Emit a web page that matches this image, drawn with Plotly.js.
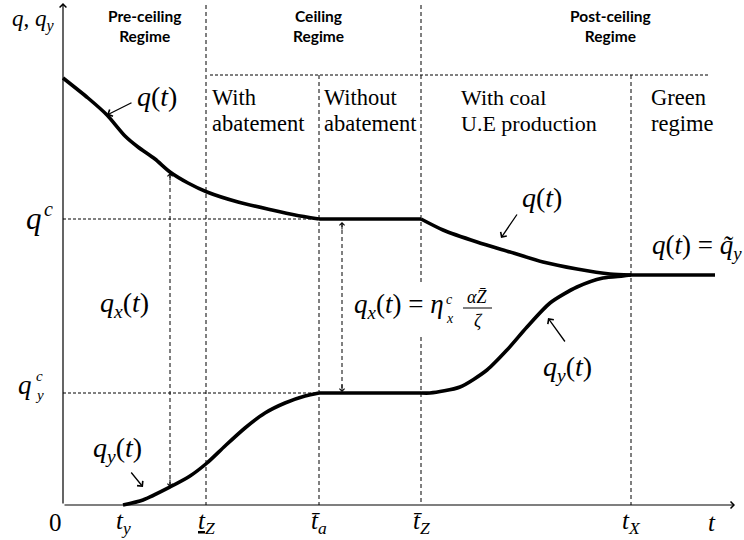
<!DOCTYPE html>
<html><head><meta charset="utf-8">
<script src="https://cdn.plot.ly/plotly-3.0.1.min.js"></script>
<style>html,body{margin:0;padding:0;background:#fff}</style>
</head><body><div id="chart" style="width:744px;height:540px"></div>
<script>
// ---- data (time offset from origin, level above axis) ----
const timePoints = [0, 60, 143, 256, 358, 568, 649];
const timeNames = ['0', '<i>t</i><sub><i>y</i></sub>', '<u><i>t</i></u><sub><i>Z</i></sub>',
  '<i>t̄</i><sub><i>a</i></sub>', '<i>t̄</i><sub><i>Z</i></sub>', '<i>t</i><sub><i>X</i></sub>', '<i>t</i>'];
const qCeil = 286;      // q^c
const qyCeil = 112;     // q_y^c
const qGreen = 230;     // q~_y
const tEnd = 652;

// q(t) before ceiling
const qPreT = [0, 25, 44, 62, 75, 92, 107, 125, 144, 175, 209, 232, 256];
const qPreV = [427, 407, 390, 369, 358, 346, 333, 322, 313, 303, 295, 290, 286];
// q(t) after ceiling
const qPostT = [358, 380, 414, 447, 480, 514, 547, 568];
const qPostV = [286, 275, 263, 253, 243, 236, 231, 230];
// q_y(t) before ceiling
const qyPreT = [60, 80, 107, 127, 144, 162, 182, 202, 222, 242, 256];
const qyPreV = [0, 5, 18, 29, 42, 59, 77, 92, 102, 109, 112];
// q_y(t) after ceiling
const qyPostT = [358, 367, 397, 424, 444, 464, 487, 514, 540, 560, 568];
const qyPostV = [112, 112, 118, 135, 155, 178, 202, 218, 227, 229, 230];

// ---- helpers ----
const X = px => px - 63, Y = py => 505 - py;
const MATH = 'Liberation Serif', HEAD = 'Lato';
const ln = {color: '#000', width: 3.6};
const sp = {...ln, shape: 'spline', smoothing: 0.7};
const traces = [
  {x: qPreT, y: qPreV, mode: 'lines', line: sp},
  {x: [timePoints[3], timePoints[4]], y: [qCeil, qCeil], mode: 'lines', line: ln},
  {x: qPostT, y: qPostV, mode: 'lines', line: sp},
  {x: [timePoints[5], tEnd], y: [qGreen, qGreen], mode: 'lines', line: ln},
  {x: qyPreT, y: qyPreV, mode: 'lines', line: sp},
  {x: [timePoints[3], timePoints[4]], y: [qyCeil, qyCeil], mode: 'lines', line: ln},
  {x: qyPostT, y: qyPostV, mode: 'lines', line: sp}
];

function T(px, py, text, size, extra) {
  return Object.assign({x: X(px), y: Y(py), xref: 'x', yref: 'y', text: text, showarrow: false,
    font: {family: MATH, size: size, color: '#000'}}, extra || {});
}
function A(hx, hy, tx, ty, w, head, size) {
  return {x: X(hx), y: Y(hy), ax: X(tx), ay: Y(ty), xref: 'x', yref: 'y', axref: 'x', ayref: 'y',
    text: '', showarrow: true, arrowhead: head || 4, arrowsize: size || 1.1, arrowwidth: w || 1.3, arrowcolor: '#000'};
}
const tight = {borderpad: 0};
const ann = [];
// axis labels
ann.push(T(33, 20, '<i>q</i>, <i>q</i><sub><i>y</i></sub>', 23));
timePoints.forEach((t, i) => {
  ann.push({x: t, y: Y(522), xref: 'x', yref: 'y', text: timeNames[i], showarrow: false,
    xshift: i === 0 ? -8 : 0, font: {family: MATH, size: 25, color: '#000'}});
});
// regime headers
const hf = {font: {family: HEAD, size: 15.5, color: '#000'}};
ann.push(T(144, 26, '<b>Pre-ceiling</b><br><b>Regime</b>', 15.5, hf));
ann.push(T(318, 26, '<b>Ceiling</b><br><b>Regime</b>', 15.5, hf));
ann.push(T(610, 26, '<b>Post-ceiling</b><br><b>Regime</b>', 15.5, hf));
// sub-regimes (one annotation per line)
const sl = {xanchor: 'left', align: 'left'};
ann.push(T(210, 97, 'With', 22.5, sl));
ann.push(T(210, 123, 'abatement', 22.5, sl));
ann.push(T(322, 97, 'Without', 22.5, sl));
ann.push(T(322, 123, 'abatement', 22.5, sl));
ann.push(T(459, 97, 'With coal', 22, sl));
ann.push(T(459, 123, 'U.E production', 22, sl));
ann.push(T(649, 97, 'Green', 22.5, sl));
ann.push(T(649, 123, 'regime', 22.5, sl));
// level labels
ann.push(T(34, 218, '<i>q</i>', 31, tight));
ann.push(T(48, 209, '<i>c</i>', 20, tight));
ann.push(T(25, 385, '<i>q</i>', 27, tight));
ann.push(T(39, 376, '<i>c</i>', 15, tight));
ann.push(T(39, 395, '<i>y</i>', 15, tight));
// curve labels
ann.push(T(157, 96, '<i>q</i>(<i>t</i>)', 28));
ann.push(A(107, 115, 133, 102));
ann.push(T(542, 197, '<i>q</i>(<i>t</i>)', 28));
ann.push(A(501, 238, 518, 213));
ann.push(T(650, 247, '<i>q</i>(<i>t</i>) = <i>q̃</i><sub><i>y</i></sub>', 27, {xanchor: 'left'}));
ann.push(T(567, 368, '<i>q</i><sub><i>y</i></sub>(<i>t</i>)', 28));
ann.push(A(548, 318, 566, 343));
ann.push(T(117, 449, '<i>q</i><sub><i>y</i></sub>(<i>t</i>)', 28));
ann.push(A(143, 487, 130, 471));
ann.push(T(124, 304, '<i>q</i><sub><i>x</i></sub>(<i>t</i>)', 28));
// formula
ann.push(T(353, 306, '<i>q</i><sub><i>x</i></sub>(<i>t</i>) = <i>η</i>', 27, {xanchor: 'left', borderpad: 0}));
ann.push(T(449, 299, '<i>c</i>', 14, tight));
ann.push(T(450, 318, '<i>x</i>', 14, tight));
ann.push(T(477, 297, '<i>αZ̄</i>', 18, tight));
ann.push(T(478, 321, '<i>ζ</i>', 18, tight));
// dashed double arrows heads
ann.push(A(170, 173, 170, 182, 1, 4, 1));
ann.push(A(170, 487, 170, 478, 1, 4, 1));
ann.push(A(342, 222, 342, 231, 1, 4, 1));
ann.push(A(342, 392, 342, 383, 1, 4, 1));
// axes with arrows
ann.push(A(735, 505, 63, 505, 1.2, 4, 1.1));
ann.push(A(63, 3, 63, 505, 1.2, 4, 1.1));

function L(x0, y0, x1, y1, dash, w) {
  return {type: 'line', xref: 'x', yref: 'y', x0: X(x0), y0: Y(y0), x1: X(x1), y1: Y(y1),
    line: {color: '#000', width: w || 1, dash: dash}, layer: 'below'};
}
const vd = '4px,3px', hd = '3px,2px';
const shapes = [
  L(206, 5, 206, 505, vd),
  L(319, 75, 319, 505, vd),
  L(421, 5, 421, 282, vd), L(421, 337, 421, 505, vd),
  L(631, 75, 631, 505, vd),
  L(210, 75, 710, 75, hd),
  L(63, 219, 319, 219, hd),
  L(63, 393, 319, 393, hd),
  L(170, 174, 170, 486, vd),
  L(342, 223, 342, 391, vd),
  L(463, 308, 492, 308, 'solid', 1)
];

Plotly.newPlot('chart', traces, {
  width: 744, height: 540, margin: {l: 0, r: 0, t: 0, b: 0},
  paper_bgcolor: '#fff', plot_bgcolor: '#fff', showlegend: false,
  xaxis: {range: [-63, 681], visible: false, fixedrange: true},
  yaxis: {range: [-35, 505], visible: false, fixedrange: true},
  annotations: ann, shapes: shapes
}, {staticPlot: true, displayModeBar: false});
</script></body></html>
